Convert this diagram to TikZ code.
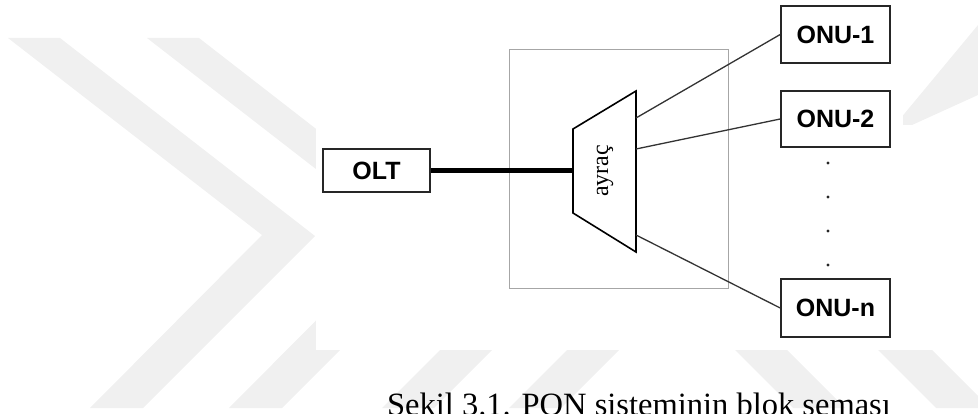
\documentclass[tikz,border=0pt]{standalone}
\usepackage{fontspec}
\setmainfont{Liberation Serif}
\newfontfamily\boxfont{Liberation Sans}
\begin{document}
\begin{tikzpicture}[x=1pt,y=-1pt,
  unitbox/.style={draw=black!85, line width=1.6pt, fill=white, minimum width=109pt,
    minimum height=57pt, inner sep=0pt, font=\boxfont\bfseries\fontsize{25}{25}\selectfont},
  link/.style={draw=black!80, line width=1.3pt},
  wm/.style={fill=black!6, draw=none},
  dotmark/.style={circle, fill=black!85, inner sep=0pt, minimum size=3.2pt}]
\useasboundingbox (0,0) rectangle (978,414);
% watermark (background)
\fill[wm] (8,38) -- (60,38) -- (315,236) -- (143,408) -- (90,408) -- (262,235) -- cycle;
\fill[wm] (147,38) -- (199,38) -- (454,236) -- (282,408) -- (229,408) -- (401,235) -- cycle;
\fill[wm] (440,350) -- (492,350) -- (434,408) -- (382,408) -- cycle;
\fill[wm] (567,350) -- (619,350) -- (561,408) -- (509,408) -- cycle;
\fill[wm] (735,350) -- (787,350) -- (845,408) -- (793,408) -- cycle;
\fill[wm] (878,350) -- (932,350) -- (990,408) -- (936,408) -- cycle;
\fill[wm] (978,25) -- (978,95) -- (912,125) -- (895,125) -- cycle;
% white panel of the figure
\fill[white] (316,0) rectangle (903,350);
% splitter enclosure
\draw[black!35, line width=1pt] (509,50) rectangle (728,289);
% nodes
\node[unitbox, minimum width=107pt, minimum height=43pt] (olt) at (376.5,170.5) {OLT};
\node[unitbox] (onu1) at (835.5,34.5) {ONU-1};
\node[unitbox, minimum height=56pt] (onu2) at (835.5,119) {ONU-2};
\node[unitbox, minimum height=58pt] (onun) at (835.5,308) {ONU-n};
% splitter trapezoid
\coordinate (s1) at (573,129);
\coordinate (s2) at (636,91);
\coordinate (s3) at (636,252);
\coordinate (s4) at (573,213);
\draw[black, line width=1.6pt, line join=miter] (s1) -- (s2) -- (s3) -- (s4) -- cycle;
\node[rotate=90, font=\fontsize{24}{24}\selectfont, inner sep=0pt] (spl) at (605,171) {ayraç};
\coordinate (sin) at (573,170.5);
\coordinate (o1) at (636,118);
\coordinate (o2) at (636,149);
\coordinate (o3) at (636,235);
% connectors
\draw[black, line width=5pt] (olt.east) -- (sin);
\draw[link] (o1) -- (onu1.west);
\draw[link] (o2) -- (onu2.west);
\draw[link] (o3) -- (onun.west);
% dots
\node[dotmark] (d1) at (828,163) {};
\node[dotmark] (d2) at (828,197) {};
\node[dotmark] (d3) at (828,231) {};
\node[dotmark] (d4) at (828,265) {};
% caption
\node[anchor=base, font=\fontsize{32.5}{32.5}\selectfont, inner sep=0pt] (cap) at (639,415) {Şekil 3.1. PON sisteminin blok şeması};
\end{tikzpicture}
\end{document}
